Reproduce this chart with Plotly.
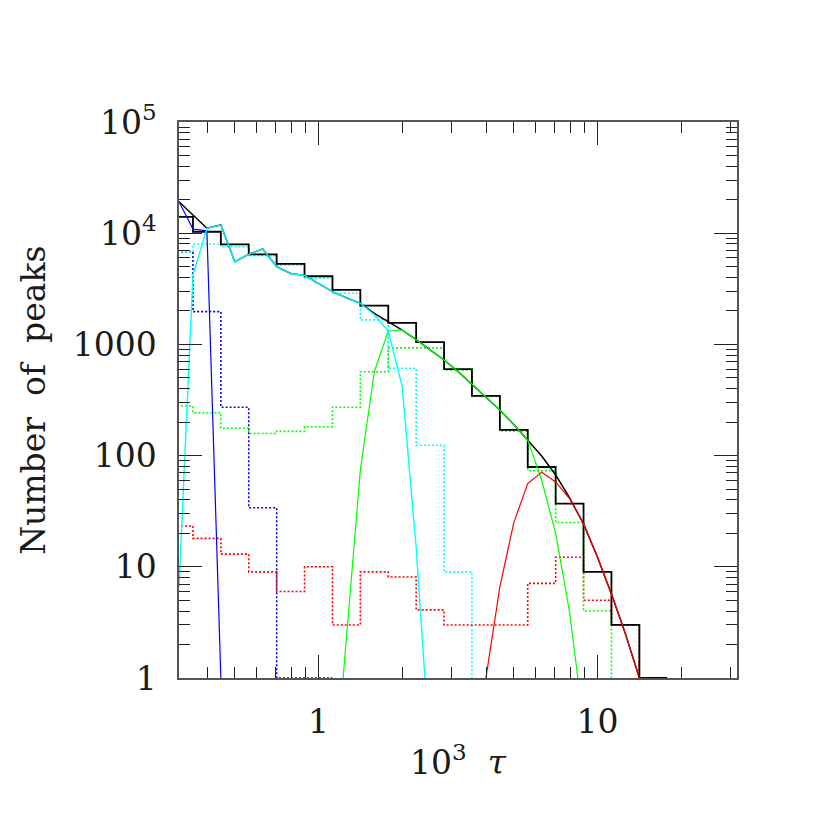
import plotly.graph_objects as go

# ---------------- data ----------------
# histogram bins: log10 of bin centres (10^3 tau), bin width 0.1 dex
BIN_LOG = [-0.5, -0.4, -0.3, -0.2, -0.1, 0.0, 0.1, 0.2, 0.3, 0.4,
           0.5, 0.6, 0.7, 0.8, 0.9, 1.0, 1.1, 1.2]
BIN_HALF = 0.05

BLACK_HIST = [14000, 10300, 7950, 6460, 5300, 4100, 3090, 2230, 1560, 1050,
              600, 344, 170, 79, 37, 9, 3, 1]
BLUE_HIST = [6800, 1970, 272, 34, 1, 1]
CYAN_HIST = [6800, 8000, 7560, 6270, 5180, 3930, 2880, 1660, 610, 124, 9]
GREEN_HIST = [279, 243, 176, 158, 165, 182, 272, 567, 930, 930, 589, 340,
              167, 73, 25, 4]
RED_HIST = [23.3, 18, 13, 9, 6, 10, 3, 9, 8.1, 4.1, 3, 3, 3, 7.1, 12.2, 5, 3]

# model curves, sampled at log10(10^3 tau)
BLACK_CURVE_LOG = [-0.5, -0.45, -0.4, -0.35, -0.3, -0.25, -0.2, -0.15, -0.1, -0.05,
                   0.0, 0.05, 0.1, 0.15, 0.2, 0.25, 0.3, 0.35, 0.4, 0.45,
                   0.5, 0.55, 0.6, 0.65, 0.7, 0.75, 0.8, 0.85, 0.9, 0.95,
                   1.0, 1.05, 1.1, 1.15]
BLACK_CURVE = [19200, 14580, 11070, 11850, 5540, 6460, 7210, 5010, 4340, 4170,
               3530, 2980, 2630, 2340, 1900, 1600, 1347, 1105, 894, 724,
               571, 440, 337, 257, 190, 138, 99, 67, 41.6, 24.3,
               12.2, 5.7, 2.5, 1.0]

BLUE_CURVE_LOG = [-0.5, -0.45, -0.4, -0.35]
BLUE_CURVE = [19200, 10900, 10500, 1]

CYAN_CURVE_LOG = [-0.5, -0.45, -0.4, -0.35, -0.3, -0.25, -0.2, -0.15, -0.1, -0.05,
                  0.0, 0.05, 0.1, 0.15, 0.2, 0.25, 0.3, 0.35, 0.4]
CYAN_CURVE = [6.6, 4210, 11070, 11850, 5540, 6460, 7210, 5010, 4340, 4170,
              3530, 2980, 2630, 2340, 1850, 1320, 417, 15, 0.2]

GREEN_CURVE_LOG = [0.05, 0.1, 0.15, 0.2, 0.25, 0.3, 0.35, 0.4, 0.45, 0.5,
                   0.55, 0.6, 0.65, 0.7, 0.75, 0.8, 0.85, 0.9, 0.95]
GREEN_CURVE = [0.07, 2.2, 74, 568, 1320, 1350, 1105, 894, 724, 571,
               440, 337, 257, 190, 138, 60, 20, 3.9, 0.39]

RED_CURVE_LOG = [0.6, 0.65, 0.7, 0.75, 0.8, 0.85, 0.9, 0.95, 1.0, 1.05, 1.1, 1.15]
RED_CURVE = [1, 6.6, 25, 56, 71, 58, 41, 24.3, 12.2, 5.7, 2.5, 1.0]

X_TICKS = [1, 10]
X_TICK_TEXT = ["1", "10"]
Y_TICKS = [1, 10, 100, 1000, 1e4, 1e5]
Y_TICK_TEXT = ["1", "10", "100", "1000", "10<sup>4</sup>", "10<sup>5</sup>"]

X_TITLE = "10<sup>3</sup>\u00a0\u00a0<i>τ</i>"
Y_TITLE = "Number\u00a0 of\u00a0 peaks"

BLACK = "#000000"
BLUE = "#0000ff"
CYAN = "#00ffff"
GREEN = "#00ff00"
RED = "#ff0000"
FONT = "DejaVu Serif"
TEXT_COLOR = "#1a1a1a"


def step_xy(n_vals, vals, drop_end=False):
    """Build step outline from bin centres (log) and values."""
    xs, ys = [], []
    for c, v in zip(BIN_LOG[:n_vals], vals):
        xs.append(10 ** (c - BIN_HALF))
        ys.append(v)
    last_edge = 10 ** (BIN_LOG[n_vals - 1] + BIN_HALF)
    xs.append(last_edge)
    ys.append(vals[-1])
    if drop_end:
        xs.append(last_edge)
        ys.append(1)
    return xs, ys


fig = go.Figure()


def add_hist(vals, color, dotted, width, drop_end=False):
    xs, ys = step_xy(len(vals), vals, drop_end)
    fig.add_trace(go.Scatter(
        x=xs, y=ys, mode="lines", line_shape="hv",
        line=dict(color=color, width=width, dash="2px,2px" if dotted else "solid"),
        showlegend=False, hoverinfo="skip"))


def add_curve(logs, vals, color, width):
    fig.add_trace(go.Scatter(
        x=[10 ** l for l in logs], y=vals, mode="lines",
        line=dict(color=color, width=width), showlegend=False, hoverinfo="skip"))


add_hist(BLUE_HIST, BLUE, True, 1.6)
add_hist(CYAN_HIST, CYAN, True, 1.6, drop_end=True)
add_hist(RED_HIST, RED, True, 1.6, drop_end=True)
add_hist(GREEN_HIST, GREEN, True, 1.6, drop_end=True)
add_hist(BLACK_HIST, BLACK, False, 1.8)

add_curve(BLACK_CURVE_LOG, BLACK_CURVE, BLACK, 1.5)
add_curve(BLUE_CURVE_LOG, BLUE_CURVE, BLUE, 1.2)
add_curve(GREEN_CURVE_LOG, GREEN_CURVE, GREEN, 1.2)
add_curve(RED_CURVE_LOG, RED_CURVE, RED, 1.2)
add_curve(CYAN_CURVE_LOG, CYAN_CURVE, CYAN, 1.4)

x_minor = [v * m for m in (0.1, 1, 10) for v in range(2, 10)]
x_minor = [v for v in x_minor if 0.32 < v < 31.5 and v not in (1, 10)]
y_minor = [v * 10 ** k for k in range(0, 5) for v in range(2, 10)]

axis_common = dict(
    type="log", showgrid=False, zeroline=False,
    showline=True, linecolor="#555555", linewidth=1.5, mirror="allticks",
    ticks="inside", ticklen=23, tickwidth=1.3, tickcolor="#222222",
    tickfont=dict(family=FONT, size=33, color=TEXT_COLOR),
)

fig.update_xaxes(
    **axis_common, range=[-0.5, 1.5], tickmode="array",
    tickvals=X_TICKS, ticktext=X_TICK_TEXT, ticklabelstandoff=14,
    minor=dict(tickmode="array", tickvals=x_minor, ticks="inside", ticklen=11,
               tickwidth=1.3, tickcolor="#222222", showgrid=False),
)
fig.update_yaxes(
    **axis_common, range=[0, 5], tickmode="array",
    tickvals=Y_TICKS, ticktext=Y_TICK_TEXT, ticklabelstandoff=14,
    minor=dict(tickmode="array", tickvals=y_minor, ticks="inside", ticklen=11,
               tickwidth=1.3, tickcolor="#222222", showgrid=False),
)

fig.add_annotation(text=X_TITLE, xref="paper", yref="paper", x=0.5, y=-0.148,
                   xanchor="center", yanchor="middle", showarrow=False,
                   font=dict(family=FONT, size=33, color=TEXT_COLOR))
fig.add_annotation(text=Y_TITLE, xref="paper", yref="paper", x=-0.262, y=0.5,
                   xanchor="center", yanchor="middle", showarrow=False, textangle=-90,
                   font=dict(family=FONT, size=33, color=TEXT_COLOR))

# page body has an 8px default margin; size the figure so the plot area
# lands at x 179-737, y 122-678 of the 830x830 window
fig.update_layout(
    width=822, height=822, autosize=False,
    margin=dict(l=171, r=93, t=114, b=152),
    paper_bgcolor="white", plot_bgcolor="white",
    showlegend=False,
)

fig.write_html("out.html")
